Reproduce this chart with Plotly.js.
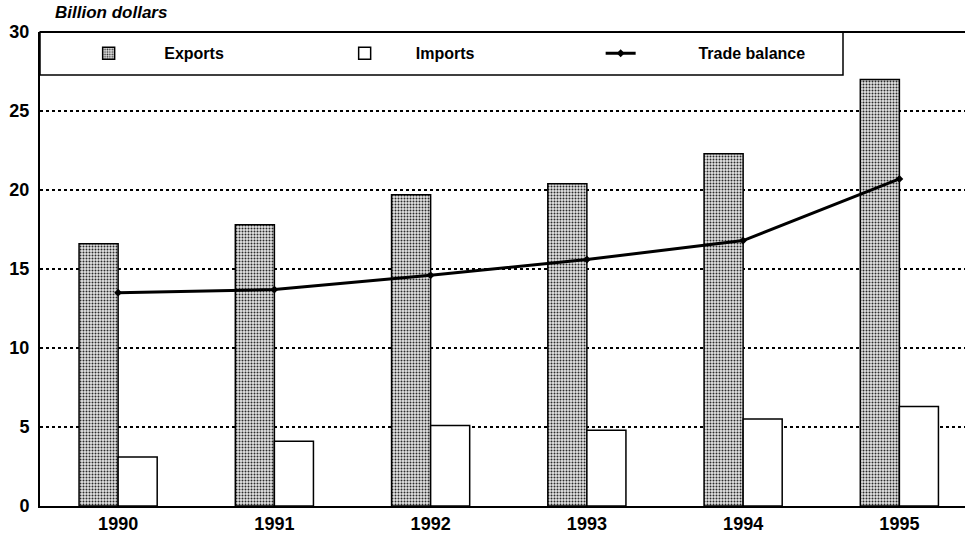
<!DOCTYPE html>
<html>
<head>
<meta charset="utf-8">
<script src="https://cdn.plot.ly/plotly-3.0.1.min.js"></script>
<style>html,body{margin:0;padding:0;background:#fff;}#chart{width:965px;height:539px;}</style>
</head>
<body>
<div id="chart"></div>
<script>
const years = ['1990', '1991', '1992', '1993', '1994', '1995'];
const exportsVals = [16.6, 17.8, 19.7, 20.4, 22.3, 27.0];
const importsVals = [3.1, 4.1, 5.1, 4.8, 5.5, 6.3];
const balanceVals = [13.5, 13.7, 14.6, 15.6, 16.8, 20.7];
const seriesNames = ['Exports', 'Imports', 'Trade balance'];
const yTicks = [0, 5, 10, 15, 20, 25, 30];

const nb = n => '\u00a0'.repeat(n);
const FONT = 'Liberation Sans, Arial, sans-serif';

const traces = [
  {
    type: 'bar', x: years, y: exportsVals, name: '<b>' + nb(8) + seriesNames[0] + '</b>',
    marker: {
      color: '#bdbdbd',
      line: {color: '#000', width: 1.5},
      pattern: {shape: '.', fgcolor: '#2a2a2a', bgcolor: '#e4e4e4', size: 3, solidity: 0.35}
    },
    offsetgroup: 'e'
  },
  {
    type: 'bar', x: years, y: importsVals, name: '<b>' + nb(7) + seriesNames[1] + '</b>',
    marker: {color: '#ffffff', line: {color: '#000', width: 1.5}},
    offsetgroup: 'i'
  },
  {
    type: 'scatter', mode: 'lines+markers', x: years, y: balanceVals, name: '<b>' + nb(13) + seriesNames[2] + '</b>',
    line: {color: '#000', width: 3},
    marker: {color: '#000', size: 6, symbol: 'diamond'}
  }
];

const layout = {
  width: 965, height: 539,
  margin: {l: 40, r: 0, t: 32, b: 33, pad: 0},
  paper_bgcolor: '#fff', plot_bgcolor: '#fff',
  font: {family: FONT, color: '#000', size: 16},
  barmode: 'group', bargap: 0.5, bargroupgap: 0,
  title: {
    text: '<b><i>Billion dollars</i></b>', font: {family: FONT, size: 17, color: '#000'},
    x: 55 / 965, xanchor: 'left', xref: 'container',
    y: 1 - 12 / 539, yanchor: 'middle', yref: 'container'
  },
  xaxis: {
    type: 'category', range: [-0.5, 5.42],
    showline: true, linecolor: '#000', linewidth: 2,
    showgrid: false, ticks: '', zeroline: false,
    tickfont: {family: FONT, size: 18, color: '#000', weight: 'bold'}
  },
  yaxis: {
    range: [0, 30], tickvals: yTicks, ticktext: yTicks.map(String),
    showline: true, linecolor: '#000', linewidth: 2,
    showgrid: true, gridcolor: '#000', gridwidth: 1.5, griddash: 'dot',
    zeroline: false, ticks: '', ticklabelstandoff: 5,
    tickfont: {family: FONT, size: 18, color: '#000', weight: 'bold'}
  },
  showlegend: true,
  legend: {
    orientation: 'h', x: 0.0526, xanchor: 'left', y: 0.955, yanchor: 'middle',
    bgcolor: 'rgba(0,0,0,0)', borderwidth: 0,
    entrywidth: 211, entrywidthmode: 'pixels',
    font: {family: FONT, size: 16, color: '#000'},
    traceorder: 'normal'
  },
  shapes: [
    {type: 'rect', xref: 'paper', yref: 'paper', x0: 0, x1: (843 - 40) / 925, y0: (506 - 75) / 474, y1: 1,
     line: {color: '#000', width: 1.5}, fillcolor: '#fff', layer: 'above'},
    {type: 'line', xref: 'paper', yref: 'paper', x0: 0, x1: 1, y0: 1, y1: 1,
     line: {color: '#000', width: 2}, layer: 'above'}
  ]
};

Plotly.newPlot('chart', traces, layout, {displayModeBar: false, staticPlot: true});
</script>
</body>
</html>
